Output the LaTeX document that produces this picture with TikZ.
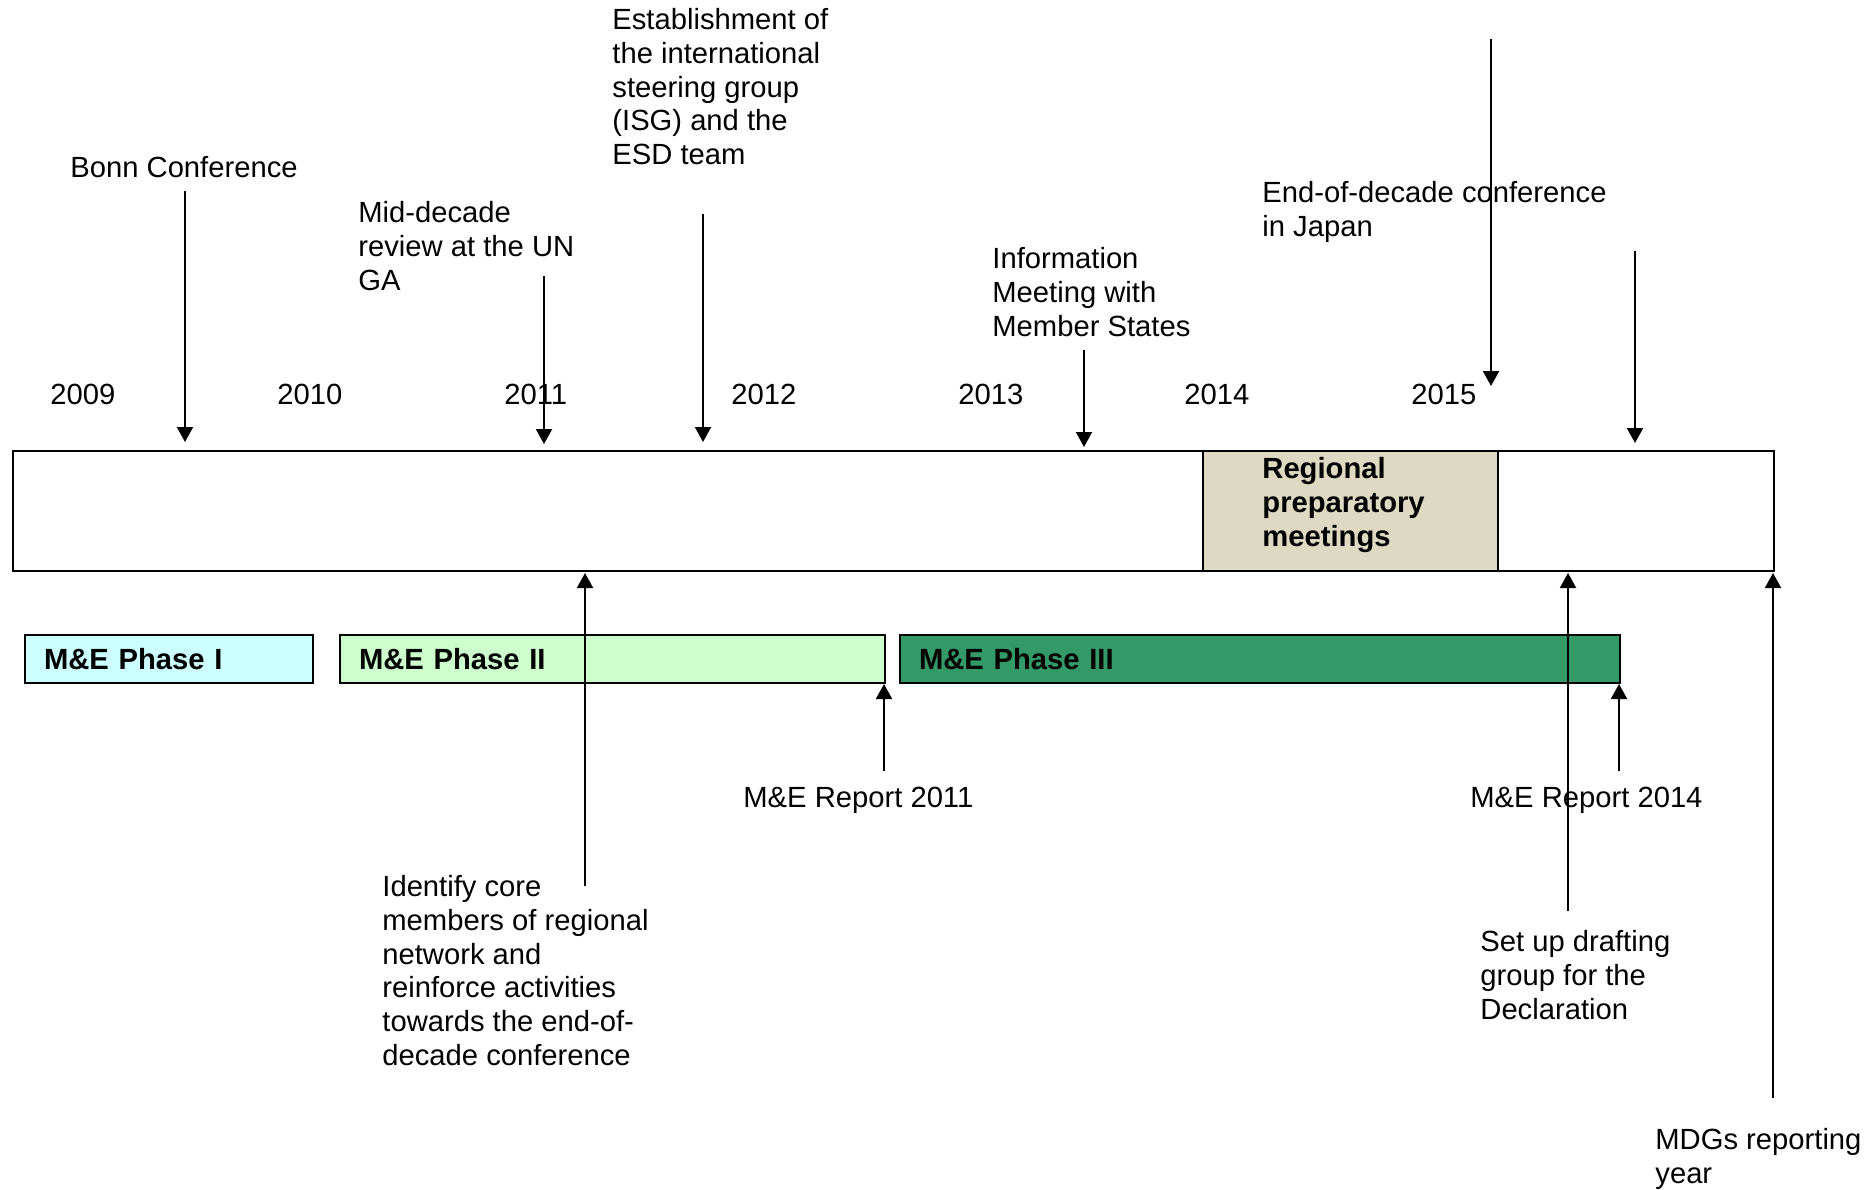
\documentclass[tikz,border=0pt]{standalone}
\usepackage{fontspec}
\setmainfont{Liberation Sans}
\usetikzlibrary{arrows.meta, positioning}

\definecolor{phaseone}{HTML}{CCFFFF}
\definecolor{phasetwo}{HTML}{CCFFCC}
\definecolor{phasethree}{HTML}{339966}
\definecolor{regfill}{HTML}{DDD9C3}

\begin{document}
\begin{tikzpicture}[
      x=0.5pt, y=-0.5pt,
      txt/.style={anchor=north west, inner sep=0pt, align=left, font=\fontsize{14.6}{16.9}\selectfont},
      year/.style={anchor=west, inner sep=0pt, font=\fontsize{14.6}{16.9}\selectfont},
      phase/.style={rectangle, draw, line width=1pt, anchor=north west, align=left, inner xsep=9.5pt, inner ysep=0pt, minimum height=24pt, font=\fontsize{14.6}{16.9}\selectfont\bfseries},
      arrow/.style={-{Triangle[length=7.5pt, width=8pt]}, line width=1pt}
    ]
    \useasboundingbox (0,0) rectangle (1872,1189);

    % years
    \node[year] (y2009) at (50,394) {2009};
    \node[year] (y2010) at (277,394) {2010};
    \node[year] (y2011) at (504,394) {2011};
    \node[year] (y2012) at (731,394) {2012};
    \node[year] (y2013) at (958,394) {2013};
    \node[year] (y2014) at (1184,394) {2014};
    \node[year] (y2015) at (1411,394) {2015};

    % timeline bar
    \node[rectangle, draw, line width=1pt, anchor=north west, inner sep=0pt, minimum width=880.5pt, minimum height=60pt] (bar) at (12,450) {};
    \node[rectangle, draw, line width=1pt, fill=regfill, anchor=north west, inner sep=0pt, minimum width=147.5pt, minimum height=60pt] (reg) at (1202,450) {};
    \node[txt, font=\fontsize{14.6}{16.9}\selectfont\bfseries] (regtxt) at (1262,457) {Regional\\preparatory\\meetings};

    % M&E phases
    \node[phase, fill=phaseone, text width=125pt] (ph1) at (24,634) {M\&E Phase I};
    \node[phase, fill=phasetwo, text width=253.5pt] (ph2) at (339,634) {M\&E Phase II};
    \node[phase, fill=phasethree, text width=341pt] (ph3) at (899,634) {M\&E Phase III};

    % events above
    \node[txt] (bonn) at (70,156) {Bonn Conference};
    \node[txt] (mid) at (358,201) {Mid-decade\\review at the UN\\GA};
    \node[txt] (isg) at (612,8) {Establishment of\\the international\\steering group\\(ISG) and the\\ESD team};
    \node[txt] (info) at (992,247) {Information\\Meeting with\\Member States};
    \node[txt] (endconf) at (1262,181) {End-of-decade conference\\in Japan};

    % events below
    \node[txt] (core) at (382,875) {Identify core\\members of regional\\network and\\reinforce activities\\towards the end-of-\\decade conference};
    \node[txt] (rep11) at (743,787) {M\&E Report 2011};
    \node[txt] (rep14) at (1470,787) {M\&E Report 2014};
    \node[txt] (draft) at (1480,930) {Set up drafting\\group for the\\Declaration};
    \node[txt] (mdgs) at (1655,1128) {MDGs reporting\\year};

    \coordinate (bonn-s) at (185,191);   \coordinate (bonn-e) at (185,442);
    \coordinate (mid-s) at (544,276);    \coordinate (mid-e) at (544,444);
    \coordinate (isg-s) at (703,214);    \coordinate (isg-e) at (703,442);
    \coordinate (info-s) at (1084,350);  \coordinate (info-e) at (1084,447);
    \coordinate (end-s) at (1491,39);    \coordinate (end-e) at (1491,386);
    \coordinate (x-s) at (1635,251);     \coordinate (x-e) at (1635,443);
    \coordinate (core-s) at (585,886);   \coordinate (core-e) at (585,573);
    \coordinate (rep11-s) at (884,771);  \coordinate (rep11-e) at (884,684);
    \coordinate (draft-s) at (1568,911); \coordinate (draft-e) at (1568,573);
    \coordinate (rep14-s) at (1619,771); \coordinate (rep14-e) at (1619,684);
    \coordinate (mdgs-s) at (1773,1098); \coordinate (mdgs-e) at (1773,573);

    \draw[arrow] (bonn-s) -- (bonn-e);
    \draw[arrow] (mid-s) -- (mid-e);
    \draw[arrow] (isg-s) -- (isg-e);
    \draw[arrow] (info-s) -- (info-e);
    \draw[arrow] (end-s) -- (end-e);
    \draw[arrow] (x-s) -- (x-e);
    \draw[arrow] (core-s) -- (core-e);
    \draw[arrow] (rep11-s) -- (rep11-e);
    \draw[arrow] (draft-s) -- (draft-e);
    \draw[arrow] (rep14-s) -- (rep14-e);
    \draw[arrow] (mdgs-s) -- (mdgs-e);
  \end{tikzpicture}
\end{document}
